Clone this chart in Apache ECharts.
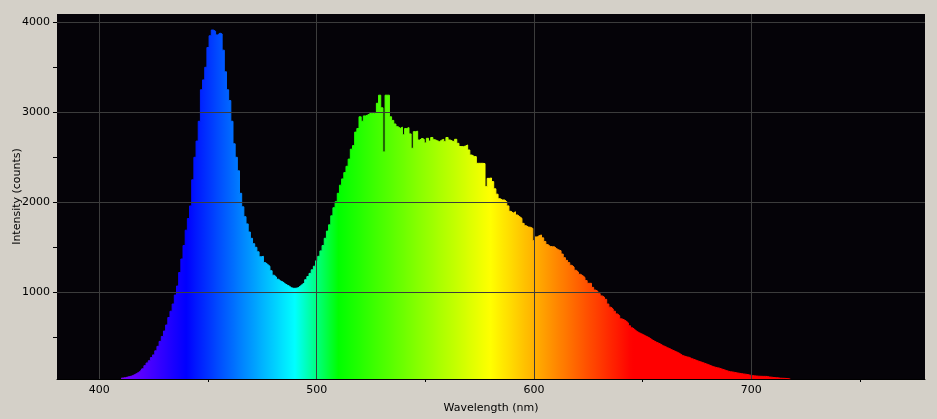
<!DOCTYPE html>
<html>
<head>
<meta charset="utf-8">
<script src="https://cdn.jsdelivr.net/npm/echarts@6/dist/echarts.min.js"></script>
<style>
html,body{margin:0;padding:0;background:#d4d0c8;}
#c{width:937px;height:419px;}
</style>
</head>
<body>
<div id="c"></div>
<script>
// Wavelength (nm) of each spectrometer bin
const wavelengths = [
  410,411,412,413,414,415,416,417,418,419,
  420,421,422,423,424,425,426,427,428,429,
  430,431,432,433,434,435,436,437,438,439,
  440,441,442,443,444,445,446,447,448,449,
  450,451,452,453,454,455,456,457,458,459,
  460,461,462,463,464,465,466,467,468,469,
  470,471,472,473,474,475,476,477,478,479,
  480,481,482,483,484,485,486,487,488,489,
  490,491,492,493,494,495,496,497,498,499,
  500,501,502,503,504,505,506,507,508,509,
  510,511,512,513,514,515,516,517,518,519,
  520,521,522,523,524,525,526,527,528,529,
  530,531,532,533,534,535,536,537,538,539,
  540,541,542,543,544,545,546,547,548,549,
  550,551,552,553,554,555,556,557,558,559,
  560,561,562,563,564,565,566,567,568,569,
  570,571,572,573,574,575,576,577,578,579,
  580,581,582,583,584,585,586,587,588,589,
  590,591,592,593,594,595,596,597,598,599,
  600,601,602,603,604,605,606,607,608,609,
  610,611,612,613,614,615,616,617,618,619,
  620,621,622,623,624,625,626,627,628,629,
  630,631,632,633,634,635,636,637,638,639,
  640,641,642,643,644,645,646,647,648,649,
  650,651,652,653,654,655,656,657,658,659,
  660,661,662,663,664,665,666,667,668,669,
  670,671,672,673,674,675,676,677,678,679,
  680,681,682,683,684,685,686,687,688,689,
  690,691,692,693,694,695,696,697,698,699,
  700,701,702,703,704,705,706,707,708,709,
  710,711,712,713,714,715,716,717,718
];

// Intensity (counts) of each bin
const counts = [
  45,48,52,58,64,70,82,95,110,125,
  150,185,215,240,275,305,350,400,455,510,
  570,637,720,790,870,970,1070,1220,1370,1520,
  1690,1820,1960,2250,2500,2680,2900,3250,3360,3500,
  3720,3850,3914,3900,3860,3880,3870,3690,3450,3250,
  3130,2900,2650,2500,2350,2100,1950,1840,1760,1670,
  1600,1540,1500,1450,1395,1400,1330,1310,1290,1240,
  1190,1170,1145,1125,1115,1095,1080,1068,1050,1044,
  1045,1050,1070,1090,1105,1140,1175,1210,1250,1290,
  1350,1400,1460,1520,1600,1680,1750,1850,1940,2007,
  2100,2190,2260,2330,2400,2480,2590,2630,2780,2820,
  2950,2900,2960,2970,2985,2990,2985,3000,3100,3190,
  3050,2560,3190,3190,2950,2910,2870,2840,2822,2835,
  2750,2820,2830,2760,2600,2785,2790,2692,2711,2700,
  2660,2711,2680,2720,2695,2685,2674,2690,2700,2674,
  2720,2692,2680,2674,2700,2655,2620,2618,2625,2637,
  2581,2525,2510,2507,2433,2433,2433,2430,2174,2266,
  2270,2230,2150,2090,2040,2026,2026,2007,1960,1900,
  1880,1895,1859,1840,1822,1766,1740,1725,1722,1710,
  1574,1615,1630,1637,1605,1565,1530,1510,1507,1505,
  1485,1470,1462,1425,1385,1355,1330,1300,1280,1245,
  1225,1200,1185,1165,1130,1100,1100,1055,1025,1010,
  985,960,945,922,870,835,815,790,760,740,
  705,695,680,660,628,605,585,565,551,540,
  528,515,503,490,472,458,445,435,422,407,
  398,385,375,362,351,340,330,315,298,290,
  282,278,266,257,248,238,230,222,213,204,
  195,185,175,168,162,157,148,140,132,124,
  118,115,110,105,101,97,93,90,86,80,
  75,72,70,68,67,66,66,65,59,57,
  53,51,50,46,45,44,42,40,38
];

// Axis ticks
const xLabelTicks = [400, 500, 600, 700];
const xMinorTicks = [450, 550, 650, 750];
const yLabelTicks = [1000, 2000, 3000, 4000];
const yTickMarks = [500, 1000, 1500, 2000, 2500, 3000, 3500, 4000];

// Wavelength -> displayed spectrum colour
function spectrumColor(w) {
  let r = 0, g = 0, b = 0;
  if (w < 440) { r = (440 - w) / 60; b = 1; }
  else if (w < 490) { g = (w - 440) / 50; b = 1; }
  else if (w < 510) { g = 1; b = (510 - w) / 20; }
  else if (w < 580) { r = (w - 510) / 70; g = 1; }
  else if (w < 645) { r = 1; g = (645 - w) / 65; }
  else { r = 1; }
  const h = v => Math.round(Math.max(0, Math.min(1, v)) * 255).toString(16).padStart(2, '0');
  return '#' + h(r) + h(g) + h(b);
}
const colorStops = [];
for (let w = 380; w <= 780; w += 5) colorStops.push(spectrumColor(w));

const seriesData = wavelengths.map((w, i) => [w, counts[i]]);

const gridColor = '#3c3c3c';
const font = 'DejaVu Sans';

const markData = xLabelTicks.map(v => ({ xAxis: v })).concat(yLabelTicks.map(v => ({ yAxis: v })));

const chart = echarts.init(document.getElementById('c'), null, { renderer: 'canvas' });
chart.setOption({
  animation: false,
  backgroundColor: '#d4d0c8',
  grid: {
    left: 57, top: 14, right: 12, bottom: 40,
    show: true, backgroundColor: '#050308', borderWidth: 0,
    containLabel: false,
    outerBoundsMode: 'none'
  },
  visualMap: {
    type: 'continuous',
    show: false,
    seriesIndex: 0,
    dimension: 0,
    min: 380,
    max: 780,
    inRange: { color: colorStops }
  },
  xAxis: {
    type: 'value',
    min: 380.5,
    max: 780,
    name: 'Wavelength (nm)',
    nameLocation: 'middle',
    nameGap: 24,
    nameMoveOverlap: false,
    nameTextStyle: { color: '#000', fontSize: 11, fontFamily: font },
    axisLine: { show: true, onZero: false, lineStyle: { color: '#000', width: 1 } },
    axisTick: { show: true, customValues: xMinorTicks, length: 3, lineStyle: { color: '#000' } },
    axisLabel: { customValues: xLabelTicks, formatter: v => String(v), color: '#000', fontSize: 11, fontFamily: font, margin: 6 },
    splitLine: { show: false }
  },
  yAxis: {
    type: 'value',
    min: 37,
    max: 4092,
    name: 'Intensity (counts)',
    nameLocation: 'middle',
    nameGap: 34,
    nameMoveOverlap: false,
    nameTextStyle: { color: '#000', fontSize: 11, fontFamily: font },
    axisLine: { show: false },
    axisTick: { show: true, customValues: yTickMarks, length: 4, lineStyle: { color: '#000' } },
    axisLabel: { customValues: yLabelTicks, formatter: v => String(v), color: '#000', fontSize: 11, fontFamily: font, margin: 7 },
    splitLine: { show: false }
  },
  series: [{
    type: 'line',
    data: seriesData,
    step: 'middle',
    symbol: 'none',
    showSymbol: false,
    lineStyle: { width: 1 },
    areaStyle: { opacity: 1 },
    silent: true,
    markLine: {
      silent: true,
      symbol: ['none', 'none'],
      label: { show: false },
      lineStyle: { color: gridColor, width: 1, type: 'solid' },
      emphasis: { disabled: true },
      data: markData,
      animation: false
    }
  }]
});
</script>
</body>
</html>
